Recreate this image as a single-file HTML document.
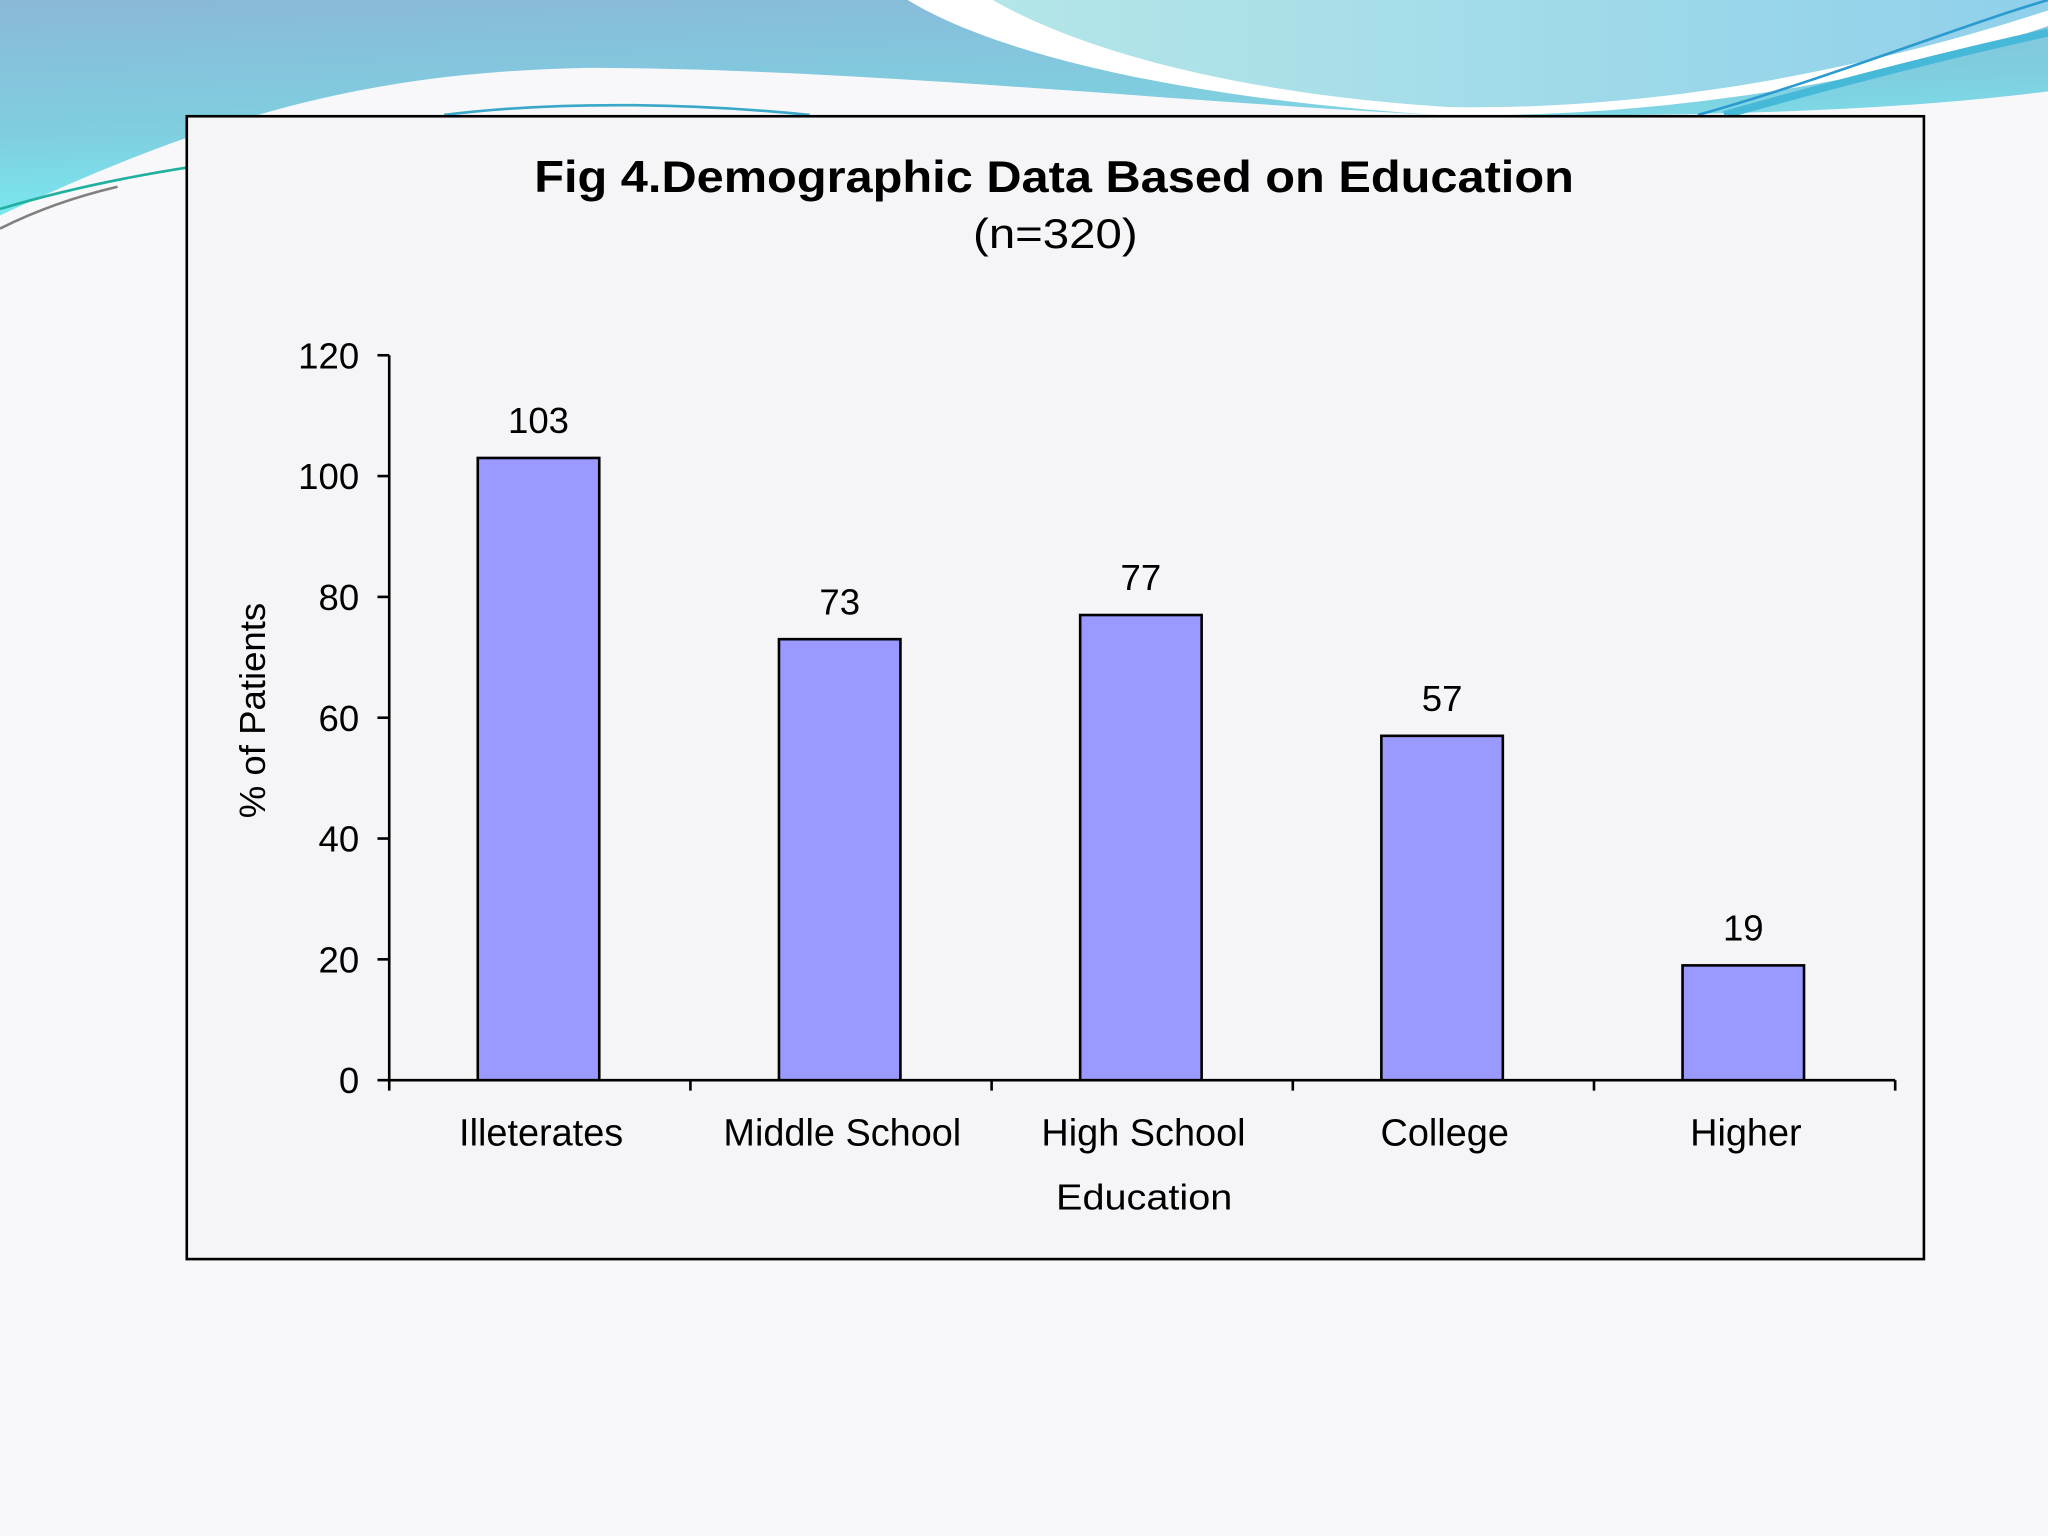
<!DOCTYPE html>
<html><head><meta charset="utf-8"><style>
html,body{margin:0;padding:0;background:#f8f8fb;}
svg{display:block;}
text{font-family:"Liberation Sans",sans-serif;fill:#000;}
</style></head><body>
<svg id="chart" width="2048" height="1536" viewBox="0 0 1568 1176">
<defs>
<linearGradient id="bg1" x1="0" y1="0" x2="0.3" y2="1">
<stop offset="0" stop-color="#8ab8d8"/><stop offset="0.6" stop-color="#7fcfe0"/><stop offset="1" stop-color="#78eef2"/>
</linearGradient>
<linearGradient id="bg2" x1="0" y1="0" x2="1" y2="0">
<stop offset="0" stop-color="#b4e6e8"/><stop offset="1" stop-color="#8fd0ea"/>
</linearGradient>
</defs>
<g>
<path d="M0,0 L1568,0 L1568,70 C1450,85 1300,90 1100,88 C900,78 650,52 450,52 C300,55 180,80 0,165 Z" fill="url(#bg1)"/>
<path d="M695,0 C760,40 900,75 1100,88 C1300,92 1480,50 1568,20 L1568,0 Z" fill="#ffffff"/>
<path d="M760,0 C830,40 950,72 1110,82 C1300,85 1470,40 1568,8 L1568,0 Z" fill="url(#bg2)"/>
<path d="M1300,88 C1400,60 1500,20 1568,0" stroke="#2a9ad0" stroke-width="2" fill="none"/>
<path d="M1320,88 C1420,60 1500,40 1568,25" stroke="#46b8d8" stroke-width="6" fill="none"/>
<path d="M0,160 C50,145 100,135 145,128" stroke="#20b0a0" stroke-width="2" fill="none"/>
<path d="M0,175 C30,160 60,150 90,143" stroke="#808080" stroke-width="2" fill="none"/>
<path d="M340,88 C420,78 520,78 620,88" stroke="#3aa8c8" stroke-width="2" fill="none"/>
</g>
<rect x="143" y="89" width="1330" height="875" fill="#f5f5f7" stroke="#000" stroke-width="2"/>
<text x="807" y="147" font-size="34" font-weight="bold" text-anchor="middle" textLength="796" lengthAdjust="spacingAndGlyphs">Fig 4.Demographic Data Based on Education</text>
<text x="808" y="190" font-size="32" text-anchor="middle" textLength="126" lengthAdjust="spacingAndGlyphs">(n=320)</text>
<text transform="translate(203,544) rotate(-90)" font-size="28" text-anchor="middle">% of Patients</text>
<text x="876" y="926" font-size="28" text-anchor="middle" textLength="135" lengthAdjust="spacingAndGlyphs">Education</text>
<g id="plot"></g>
</svg>
<script>
const categories = ["Illeterates","Middle School","High School","College","Higher"];
const values = [103,73,77,57,19];
const yTicks = [0,20,40,60,80,100,120];
const X0=298, X1=1451, Y0=827, Y120=272, YMAX=120;
const NS="http://www.w3.org/2000/svg";
const g=document.getElementById('plot');
const yS=v=>Y0-(v/YMAX)*(Y0-Y120);
const bw=(X1-X0)/categories.length;
const xC=i=>X0+bw*(i+0.5);
function mk(t,a){const e=document.createElementNS(NS,t);for(const k in a)e.setAttribute(k,a[k]);g.appendChild(e);return e;}
let ax=mk('line',{x1:X0,y1:Y120,x2:X0,y2:Y0,stroke:'#000','stroke-width':2});


let bx=mk('line',{x1:X0,y1:Y0,x2:X1,y2:Y0,stroke:'#000','stroke-width':2});


yTicks.forEach(v=>{
 const y=yS(v);
 let t=mk('line',{x1:X0-9,y1:y,x2:X0,y2:y,stroke:'#000','stroke-width':2});
 
 
 let l=mk('text',{x:X0-23,y:y+10,'font-size':28,'text-anchor':'end'});
 l.textContent=v;
 
 
});
for(let i=0;i<=categories.length;i++){
 const x=X0+bw*i;
 let t=mk('line',{x1:x,y1:Y0,x2:x,y2:Y0+8,stroke:'#000','stroke-width':2});
 
 
}
categories.forEach((c,i)=>{
 const v=values[i], w=93, x=xC(i)-w/2-1, y=yS(v);
 let r=mk('rect',{x:x,y:y,width:w,height:Y0-y,fill:'#9999ff',stroke:'#000','stroke-width':2});
 
 
 let vl=mk('text',{x:xC(i)-1,y:y-19,'font-size':28,'text-anchor':'middle'});
 vl.textContent=v;
 
 
 let cl=mk('text',{x:xC(i)+1,y:877,'font-size':29,'text-anchor':'middle'});
 cl.textContent=c;
 
 
});
</script>
</body></html>
